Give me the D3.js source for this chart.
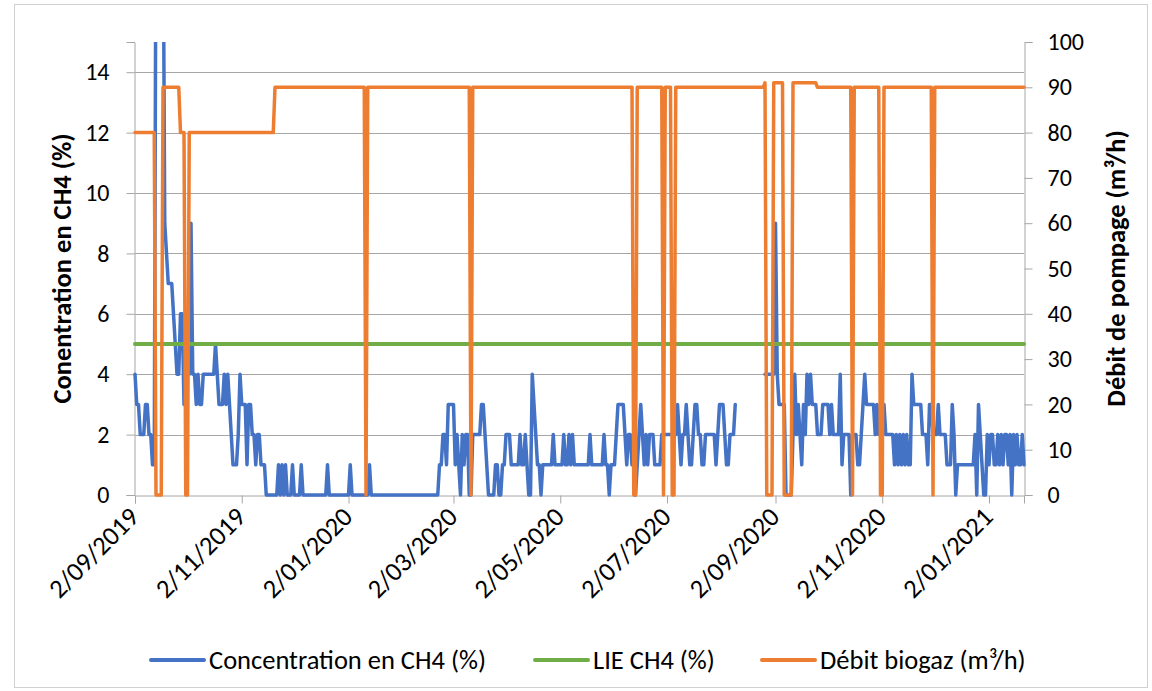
<!DOCTYPE html>
<html>
<head>
<meta charset="utf-8">
<script src="https://cdn.jsdelivr.net/npm/d3@7"></script>
<style>
  html, body { margin: 0; padding: 0; background: #fff; }
  svg text { font-family: Carlito, Calibri, Lato, sans-serif; fill: #000; }
</style>
</head>
<body>
<svg id="chart" width="1152" height="691"></svg>
<script>
// First measurement day; every daily series below starts on this date.
const startDate = "2019-09-02";
const lastDay = 508;

// Daily CH4 concentration (%), one value per day, null = no measurement.
const ch4Values = [
  4,3,3,2,2,2,3,3,2,2,  1,1,20,20,20,20,20,9,8,7,
  7,7,6,5,4,4,6,6,3,5,  4,4,9,4,4,3,4,3,3,4,
  4,4,4,4,4,4,5,4,3,3,  3,4,3,4,3,2,1,1,1,2,
  4,3,3,3,1,3,3,2,2,1,  2,2,1,1,1,0,0,0,0,0,
  0,0,1,0,1,0,1,0,0,0,  1,0,0,0,0,1,0,0,0,0,
  0,0,0,0,0,0,0,0,0,0,  1,0,0,0,0,0,0,0,0,0,
  0,0,0,1,0,0,0,0,0,0,  0,0,0,0,1,0,0,0,0,0,
  0,0,0,0,0,0,0,0,0,0,  0,0,0,0,0,0,0,0,0,0,
  0,0,0,0,0,0,0,0,0,0,  0,0,0,0,1,1,2,2,1,3,
  3,3,3,1,2,1,0,2,1,2,  2,0,0,2,2,2,2,2,3,3,
  2,1,0,0,0,0,1,1,0,0,  1,1,2,2,2,1,1,1,1,1,
  2,1,1,2,1,0,0,4,3,2,  1,1,0,1,1,1,1,1,1,2,
  1,1,1,1,1,2,1,1,2,1,  2,1,1,1,1,1,1,1,1,1,
  2,1,1,1,1,1,1,1,2,1,  1,0,1,1,1,2,3,3,3,3,
  2,1,2,2,1,1,0,1,2,3,  2,1,2,1,2,2,2,1,1,1,
  1,2,2,2,2,2,2,2,2,2,  3,2,1,2,2,3,2,1,1,2,
  3,3,2,2,1,1,2,2,2,2,  2,2,1,2,3,3,3,2,1,1,
  2,2,2,3,null,null,null,null,null,null,  null,null,null,null,null,null,null,null,null,null,
  4,4,4,4,4,4,9,4,3,3,  3,3,0,0,0,0,2,4,2,3,
  2,1,3,2,4,3,4,3,3,3,  2,2,2,3,3,3,3,2,3,2,
  2,2,2,4,1,2,2,2,2,0,  2,2,2,1,1,2,3,4,3,3,
  3,3,3,2,3,2,2,3,3,2,  2,2,2,2,1,2,1,2,1,2,
  1,2,1,1,4,3,3,3,3,3,  2,2,2,1,3,3,2,2,2,3,
  2,2,2,2,1,1,1,3,2,0,  1,1,1,1,1,1,1,1,1,1,
  2,0,3,2,1,0,0,2,1,2,  2,1,1,2,1,2,1,2,2,1,
  2,0,2,1,2,1,1,2,1
];

// Lower explosive limit of CH4 (%), constant over the whole period.
const lieValue = 5;

// Biogas flow (m³/h): day offsets where the flow changes, with the flow on that day.
const debitDays   = [0, 11, 12, 15, 16, 25, 26, 28, 29, 30, 31, 79, 80, 131, 132, 133, 191, 192, 193,
                     284, 285, 286, 287, 301, 302, 303, 306, 307, 308, 309, 359, 360, 361, 364, 365,
                     370, 371, 375, 376, 389, 390, 409, 410, 411, 425, 426, 427, 428, 455, 456, 457, 508];
const debitValues = [80, 80, 0, 0, 90, 90, 80, 80, 0, 0, 80, 80, 90, 90, 0, 90, 90, 0, 90,
                     90, 0, 0, 90, 90, 0, 90, 90, 0, 0, 90, 90, 91, 0, 0, 91,
                     91, 0, 0, 91, 91, 90, 90, 0, 90, 90, 0, 0, 90, 90, 0, 90, 90];

const dateTicks  = ["2019-09-02", "2019-11-02", "2020-01-02", "2020-03-02", "2020-05-02",
                    "2020-07-02", "2020-09-02", "2020-11-02", "2021-01-02"];
const leftTicks  = [0, 2, 4, 6, 8, 10, 12, 14];
const rightTicks = [0, 10, 20, 30, 40, 50, 60, 70, 80, 90, 100];

const seriesNames = ["Concentration en CH4 (%)", "LIE CH4 (%)", "Débit biogaz (m³/h)"];
const seriesColors = ["#4472C4", "#70AD47", "#ED7D31"];
const leftTitle = "Conentration en CH4 (%)";
const rightTitle = "Débit de pompage (m³/h)";

// ---- layout ----
const plot = { left: 135, right: 1024, top: 42, bottom: 495 };
const gridColor = "#a6a6a6";
const tickFont = 24;
const dateFont = 26.5;
const textFont = 26.5;

const parse = d3.utcParse("%Y-%m-%d");
const t0 = parse(startDate);
const dayDate = i => d3.utcDay.offset(t0, i);

const x = d3.scaleUtc().domain([t0, dayDate(lastDay)]).range([plot.left, plot.right]);
const yL = d3.scaleLinear().domain([0, 15]).range([plot.bottom, plot.top]);
const yR = d3.scaleLinear().domain([0, 100]).range([plot.bottom, plot.top]);

const svg = d3.select("#chart");

// chart frame
svg.append("rect").attr("x", 14.5).attr("y", 4.5).attr("width", 1133).attr("height", 683)
  .attr("fill", "#fff").attr("stroke", "#d0d0d0").attr("stroke-width", 1);

// horizontal gridlines (primary axis)
svg.append("g").selectAll("line").data(leftTicks.filter(v => v > 0)).join("line")
  .attr("x1", plot.left).attr("x2", plot.right)
  .attr("y1", d => Math.round(yL(d)) + 0.5).attr("y2", d => Math.round(yL(d)) + 0.5)
  .attr("stroke", gridColor).attr("stroke-width", 1);

// axes
const fmtDate = d => `${d.getUTCDate()}/${String(d.getUTCMonth() + 1).padStart(2, "0")}/${d.getUTCFullYear()}`;

const gx = svg.append("g").attr("transform", `translate(0,${plot.bottom + 0.5})`)
  .call(d3.axisBottom(x).tickValues(dateTicks.map(parse)).tickSize(8).tickFormat(fmtDate));
gx.selectAll("text")
  .style("font-size", dateFont + "px")
  .attr("x", 0).attr("y", 0).attr("dy", null)
  .attr("text-anchor", "end")
  .attr("transform", "translate(5,23) rotate(-45)");

const gl = svg.append("g").attr("transform", `translate(${plot.left - 0.5},0)`)
  .call(d3.axisLeft(yL).tickValues(leftTicks).tickSize(8).tickPadding(17));
gl.selectAll("text").style("font-size", tickFont + "px");

const gr = svg.append("g").attr("transform", `translate(${plot.right + 0.5},0)`)
  .call(d3.axisRight(yR).tickValues(rightTicks).tickSize(8).tickPadding(15));
gr.selectAll("text").style("font-size", tickFont + "px");

[gx, gl, gr].forEach(g => {
  g.select(".domain").attr("stroke", gridColor);
  g.selectAll(".tick line").attr("stroke", gridColor);
});

// axis titles
svg.append("text")
  .attr("transform", `translate(62,${(plot.top + plot.bottom) / 2}) rotate(-90)`)
  .attr("text-anchor", "middle").attr("dy", "0.35em")
  .style("font-size", textFont + "px").style("font-weight", "bold")
  .text(leftTitle);
svg.append("text")
  .attr("transform", `translate(1116,${(plot.top + plot.bottom) / 2}) rotate(-90)`)
  .attr("text-anchor", "middle").attr("dy", "0.35em")
  .style("font-size", textFont + "px").style("font-weight", "bold")
  .text(rightTitle);

// series
svg.append("clipPath").attr("id", "plotClip").append("rect")
  .attr("x", plot.left - 10).attr("y", plot.top).attr("width", plot.right - plot.left + 20)
  .attr("height", plot.bottom - plot.top + 20);

const layer = svg.append("g").attr("clip-path", "url(#plotClip)");

const ch4Line = d3.line()
  .defined(d => d[1] != null)
  .x(d => x(dayDate(d[0]))).y(d => yL(d[1]));
layer.append("path")
  .datum(ch4Values.map((v, i) => [i, v]))
  .attr("d", ch4Line)
  .attr("fill", "none").attr("stroke", seriesColors[0]).attr("stroke-width", 3.5)
  .attr("stroke-linejoin", "round").attr("stroke-linecap", "round");

layer.append("path")
  .datum([[0, lieValue], [lastDay, lieValue]])
  .attr("d", d3.line().x(d => x(dayDate(d[0]))).y(d => yL(d[1])))
  .attr("fill", "none").attr("stroke", seriesColors[1]).attr("stroke-width", 4)
  .attr("stroke-linecap", "round");

layer.append("path")
  .datum(debitDays.map((d, i) => [d, debitValues[i]]))
  .attr("d", d3.line().x(d => x(dayDate(d[0]))).y(d => yR(d[1])))
  .attr("fill", "none").attr("stroke", seriesColors[2]).attr("stroke-width", 3.5)
  .attr("stroke-linejoin", "round").attr("stroke-linecap", "round");

// legend
const legendX = [151, 535, 762];
const legend = svg.append("g").attr("transform", "translate(0,660)");
seriesNames.forEach((name, i) => {
  legend.append("line").attr("x1", legendX[i]).attr("x2", legendX[i] + 53)
    .attr("y1", 0).attr("y2", 0)
    .attr("stroke", seriesColors[i]).attr("stroke-width", 4).attr("stroke-linecap", "round");
  legend.append("text").attr("x", legendX[i] + 58).attr("y", 0).attr("dy", "0.35em")
    .style("font-size", textFont + "px").text(name);
});
</script>
</body>
</html>
